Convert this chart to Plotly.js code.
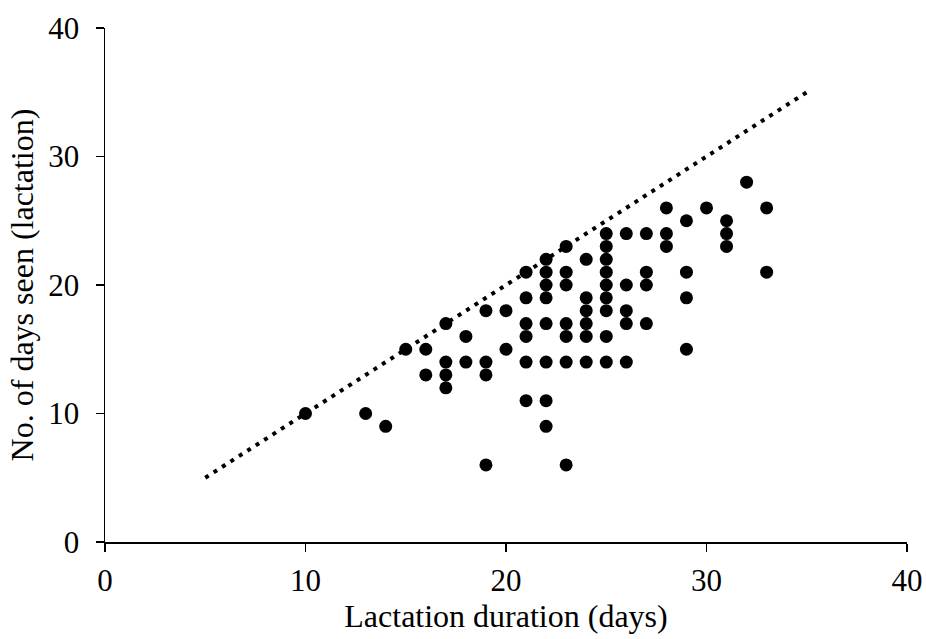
<!DOCTYPE html>
<html>
<head>
<meta charset="utf-8">
<script src="https://cdn.plot.ly/plotly-3.0.1.min.js"></script>
<style>html,body{margin:0;padding:0;background:#fff;}#chart{width:926px;height:639px;}</style>
</head>
<body>
<div id="chart"></div>
<script>
// Lactation duration (days) vs number of days seen during lactation
const lactationDays = [
  10, 13, 14, 15, 16, 16,
  17, 17, 17, 17, 18, 18,
  19, 19, 19, 19, 20, 20,
  21, 21, 21, 21, 21, 21,
  22, 22, 22, 22, 22, 22, 22, 22,
  23, 23, 23, 23, 23, 23, 23,
  24, 24, 24, 24, 24, 24,
  25, 25, 25, 25, 25, 25, 25, 25, 25,
  26, 26, 26, 26, 26,
  27, 27, 27, 27,
  28, 28, 28,
  29, 29, 29, 29,
  30,
  31, 31, 31,
  32,
  33, 33
];
const daysSeen = [
  10, 10, 9, 15, 15, 13,
  17, 14, 13, 12, 16, 14,
  18, 14, 13, 6, 18, 15,
  21, 19, 17, 16, 14, 11,
  22, 21, 20, 19, 17, 14, 11, 9,
  23, 21, 20, 17, 16, 14, 6,
  22, 19, 18, 17, 16, 14,
  24, 23, 22, 21, 20, 19, 18, 16, 14,
  24, 20, 18, 17, 14,
  24, 21, 20, 17,
  26, 24, 23,
  25, 21, 19, 15,
  26,
  25, 24, 23,
  28,
  26, 21
];
// 1:1 reference line
const refLineX = [5, 35];
const refLineY = [5, 35];

const xTicks = [0, 10, 20, 30, 40];
const yTicks = [0, 10, 20, 30, 40];

const serif = 'Liberation Serif, Times New Roman, serif';

const traces = [
  {
    x: refLineX, y: refLineY, type: 'scatter', mode: 'lines',
    line: {color: '#000', width: 4, dash: '4px,6px'},
    hoverinfo: 'skip', showlegend: false
  },
  {
    x: lactationDays, y: daysSeen, type: 'scatter', mode: 'markers',
    marker: {color: '#000', size: 13, line: {width: 0}},
    showlegend: false
  }
];

const axisCommon = {
  range: [0, 40],
  showgrid: false, zeroline: false, showline: true, linecolor: '#000', linewidth: 1.5,
  ticks: 'outside', ticklen: 8, tickwidth: 1.5, tickcolor: '#000',
  tickfont: {family: serif, size: 31, color: '#000'}
};

const layout = {
  width: 926, height: 639,
  margin: {l: 105, r: 19, t: 28, b: 97},
  paper_bgcolor: '#fff', plot_bgcolor: '#fff',
  showlegend: false,
  xaxis: Object.assign({}, axisCommon, {
    tickvals: xTicks, ticktext: xTicks.map(String),
    ticklabelstandoff: 2,
    title: {text: 'Lactation duration (days)', font: {family: serif, size: 32, color: '#000'}, standoff: 2}
  }),
  yaxis: Object.assign({}, axisCommon, {
    tickvals: yTicks, ticktext: yTicks.map(String),
    ticklabelstandoff: 10,
    title: {text: 'No. of days seen (lactation)', font: {family: serif, size: 32, color: '#000'}, standoff: 5}
  })
};

Plotly.newPlot('chart', traces, layout, {displayModeBar: false, staticPlot: true});
</script>
</body>
</html>
